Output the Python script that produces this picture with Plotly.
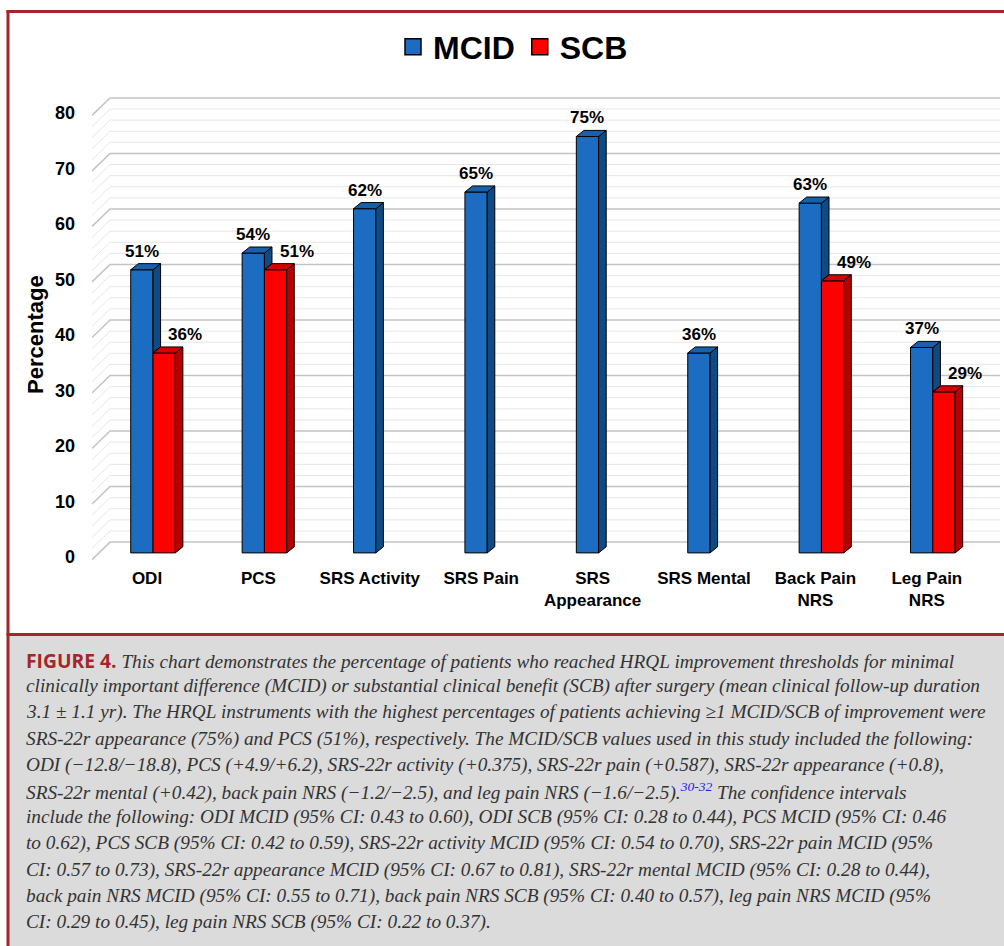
import plotly.graph_objects as go

# ---------------- data ----------------
categories = ["ODI", "PCS", "SRS Activity", "SRS Pain", "SRS<br>Appearance",
              "SRS Mental", "Back Pain<br>NRS", "Leg Pain<br>NRS"]
mcid = [51, 54, 62, 65, 75, 36, 63, 37]
scb = [36, 51, None, None, None, None, 49, 29]
y_ticks = [0, 10, 20, 30, 40, 50, 60, 70, 80]
series_names = ["MCID", "SCB"]

caption_lines = [
    '<span style="font-family:Open Sans;font-weight:bold;font-style:normal;color:#A3262A">FIGURE 4.</span>'
    ' <i>This chart demonstrates the percentage of patients who reached HRQL improvement thresholds for minimal</i>',
    '<i>clinically important difference (MCID) or substantial clinical benefit (SCB) after surgery (mean clinical follow-up duration</i>',
    '<i>3.1 \u00b1 1.1 yr). The HRQL instruments with the highest percentages of patients achieving \u22651 MCID/SCB of improvement were</i>',
    '<i>SRS-22r appearance (75%) and PCS (51%), respectively. The MCID/SCB values used in this study included the following:</i>',
    '<i>ODI (\u221212.8/\u221218.8), PCS (+4.9/+6.2), SRS-22r activity (+0.375), SRS-22r pain (+0.587), SRS-22r appearance (+0.8),</i>',
    '<i>SRS-22r mental (+0.42), back pain NRS (\u22121.2/\u22122.5), and leg pain NRS (\u22121.6/\u22122.5).'
    '<sup><span style="color:#2222EE">30-32</span></sup> The confidence intervals</i>',
    '<i>include the following: ODI MCID (95% CI: 0.43 to 0.60), ODI SCB (95% CI: 0.28 to 0.44), PCS MCID (95% CI: 0.46</i>',
    '<i>to 0.62), PCS SCB (95% CI: 0.42 to 0.59), SRS-22r activity MCID (95% CI: 0.54 to 0.70), SRS-22r pain MCID (95%</i>',
    '<i>CI: 0.57 to 0.73), SRS-22r appearance MCID (95% CI: 0.67 to 0.81), SRS-22r mental MCID (95% CI: 0.28 to 0.44),</i>',
    '<i>back pain NRS MCID (95% CI: 0.55 to 0.71), back pain NRS SCB (95% CI: 0.40 to 0.57), leg pain NRS MCID (95%</i>',
    '<i>CI: 0.29 to 0.45), leg pain NRS SCB (95% CI: 0.22 to 0.37).</i>',
]

# ---------------- style / geometry ----------------
W, H = 1004, 946
ML, MR, MT, MB = 92, 4, 81, 382
PW, PH = W - ML - MR, H - MT - MB
X_RANGE = [-0.5476, 7.603]
Y_RANGE = [-2, 85]
BW = 0.2          # bar width (category units)
DX, DY = 0.068, 1.1  # 3D depth offsets

BLUE, BLUE_SIDE, BLUE_TOP = "#1C6DC1", "#0F4A82", "#1760AC"
RED, RED_SIDE, RED_TOP = "#FF0000", "#B80000", "#D60000"
BORDER = "#A3262A"
CAPTION_FONT = "Liberation Serif, Times New Roman, Tinos, serif"


def pxx(p):
    return (p - ML) / PW


def pxy(p):
    return (H - MB - p) / PH


xs = list(range(len(categories)))

fig = go.Figure()

# front faces
fig.add_trace(go.Bar(x=xs, y=mcid, width=BW, offset=-BW, name="MCID",
                     marker=dict(color=BLUE, line=dict(color="black", width=1)),
                     showlegend=False, hoverinfo="skip"))
fig.add_trace(go.Bar(x=xs, y=scb, width=BW, offset=0, name="SCB",
                     marker=dict(color=RED, line=dict(color="black", width=1)),
                     showlegend=False, hoverinfo="skip"))

# 3D side and top faces
faces = {"bs": ([], []), "bt": ([], []), "rs": ([], []), "rt": ([], [])}


def add_poly(key, pts):
    fx, fy = faces[key]
    for (a, b) in pts + [pts[0]]:
        fx.append(a)
        fy.append(b)
    fx.append(None)
    fy.append(None)


for i, (m, s) in enumerate(zip(mcid, scb)):
    x0, x1 = i - BW, i
    add_poly("bt", [(x0, m), (x1, m), (x1 + DX, m + DY), (x0 + DX, m + DY)])
    low = 0 if s is None else min(s, m)
    add_poly("bs", [(x1, low), (x1 + DX, low + DY), (x1 + DX, m + DY), (x1, m)])
    if s is not None:
        r0, r1 = i, i + BW
        add_poly("rt", [(r0, s), (r1, s), (r1 + DX, s + DY), (r0 + DX, s + DY)])
        add_poly("rs", [(r1, 0), (r1 + DX, DY), (r1 + DX, s + DY), (r1, s)])

for key, col in [("bs", BLUE_SIDE), ("bt", BLUE_TOP), ("rs", RED_SIDE), ("rt", RED_TOP)]:
    fx, fy = faces[key]
    fig.add_trace(go.Scatter(x=fx, y=fy, mode="lines", fill="toself", fillcolor=col,
                             line=dict(color="black", width=1), showlegend=False,
                             hoverinfo="skip"))

# legend entries
for name, col in zip(series_names, [BLUE, RED]):
    fig.add_trace(go.Scatter(x=[None], y=[None], mode="markers", name=name,
                             marker=dict(symbol="square", size=16, color=col,
                                         line=dict(color="black", width=1.5))))

# value labels
annotations = []
for i, (m, s) in enumerate(zip(mcid, scb)):
    annotations.append(dict(x=i - BW / 2, y=m + DY, xref="x", yref="y", text=f"{m}%",
                            showarrow=False, yanchor="bottom", yshift=1,
                            font=dict(family="Arial", size=17, color="black", weight="bold")))
    if s is not None:
        annotations.append(dict(x=i + BW / 2, y=s + DY, xref="x", yref="y", text=f"{s}%",
                                showarrow=False, yanchor="bottom", yshift=1, xshift=21,
                                font=dict(family="Arial", size=17, color="black", weight="bold")))

# y-axis title
annotations.append(dict(x=pxx(35), y=pxy(335), xref="paper", yref="paper", text="<b>Percentage</b>",
                        textangle=-90, showarrow=False, xanchor="center", yanchor="middle",
                        font=dict(family="Arial", size=22, color="black")))

# caption
for k, line in enumerate(caption_lines):
    annotations.append(dict(x=pxx(24), y=pxy(660 + 26.2 * k), xref="paper", yref="paper",
                            text=line, showarrow=False, xanchor="left", yanchor="middle",
                            align="left",
                            font=dict(family=CAPTION_FONT, size=19.3, color="#333333")))

# shapes: wall gridlines, borders, caption background
shapes = []
for v in range(0, 81, 2):
    major = v % 10 == 0
    shapes.append(dict(type="path", xref="x", yref="y", layer="below",
                       path=f"M {X_RANGE[0]},{v - 1.2} L {X_RANGE[0] + 0.162},{v + 1.95} L {X_RANGE[1]},{v + 1.95}",
                       line=dict(color="#C4C4C4" if major else "#E6E6E6", width=1.6 if major else 1)))

shapes.append(dict(type="rect", xref="paper", yref="paper", layer="below",
                   x0=pxx(9), x1=pxx(1010), y0=pxy(635), y1=pxy(950),
                   fillcolor="#DBDBDB", line=dict(width=0)))
shapes.append(dict(type="line", xref="paper", yref="paper",
                   x0=pxx(6.5), x1=pxx(1010), y0=pxy(11.5), y1=pxy(11.5),
                   line=dict(color=BORDER, width=3)))
shapes.append(dict(type="line", xref="paper", yref="paper",
                   x0=pxx(8), x1=pxx(8), y0=pxy(10), y1=pxy(950),
                   line=dict(color=BORDER, width=3)))
shapes.append(dict(type="line", xref="paper", yref="paper",
                   x0=pxx(6.5), x1=pxx(1010), y0=pxy(634.5), y1=pxy(634.5),
                   line=dict(color=BORDER, width=3)))

fig.update_layout(
    width=W, height=H,
    margin=dict(l=ML, r=MR, t=MT, b=MB, autoexpand=False),
    paper_bgcolor="white", plot_bgcolor="white",
    barmode="overlay",
    font=dict(family="Arial", color="black"),
    xaxis=dict(range=X_RANGE, tickvals=xs, ticktext=[f"<b>{c}</b>" for c in categories],
               showgrid=False, zeroline=False, showline=False, ticks="",
               tickfont=dict(family="Arial", size=17, color="black"),
               ticklabelshift=-6, ticklabelstandoff=2, fixedrange=True),
    yaxis=dict(range=Y_RANGE, tickvals=y_ticks, ticktext=[f"<b>{t}</b>" for t in y_ticks],
               showgrid=False, zeroline=False, showline=False, ticks="",
               tickfont=dict(family="Arial", size=18, color="black"),
               ticklabelshift=4, ticklabelstandoff=16, fixedrange=True),
    legend=dict(orientation="h", x=pxx(513), xanchor="center", y=pxy(47), yanchor="middle",
                font=dict(family="Arial", size=32, color="black", weight="bold"),
                itemsizing="trace", bgcolor="rgba(0,0,0,0)", itemwidth=30,
                tracegroupgap=0),
    annotations=annotations,
    shapes=shapes,
)

fig.write_html("out.html", config={"displayModeBar": False},
               post_script="document.body.style.margin='0px';document.body.style.overflow='hidden';")
